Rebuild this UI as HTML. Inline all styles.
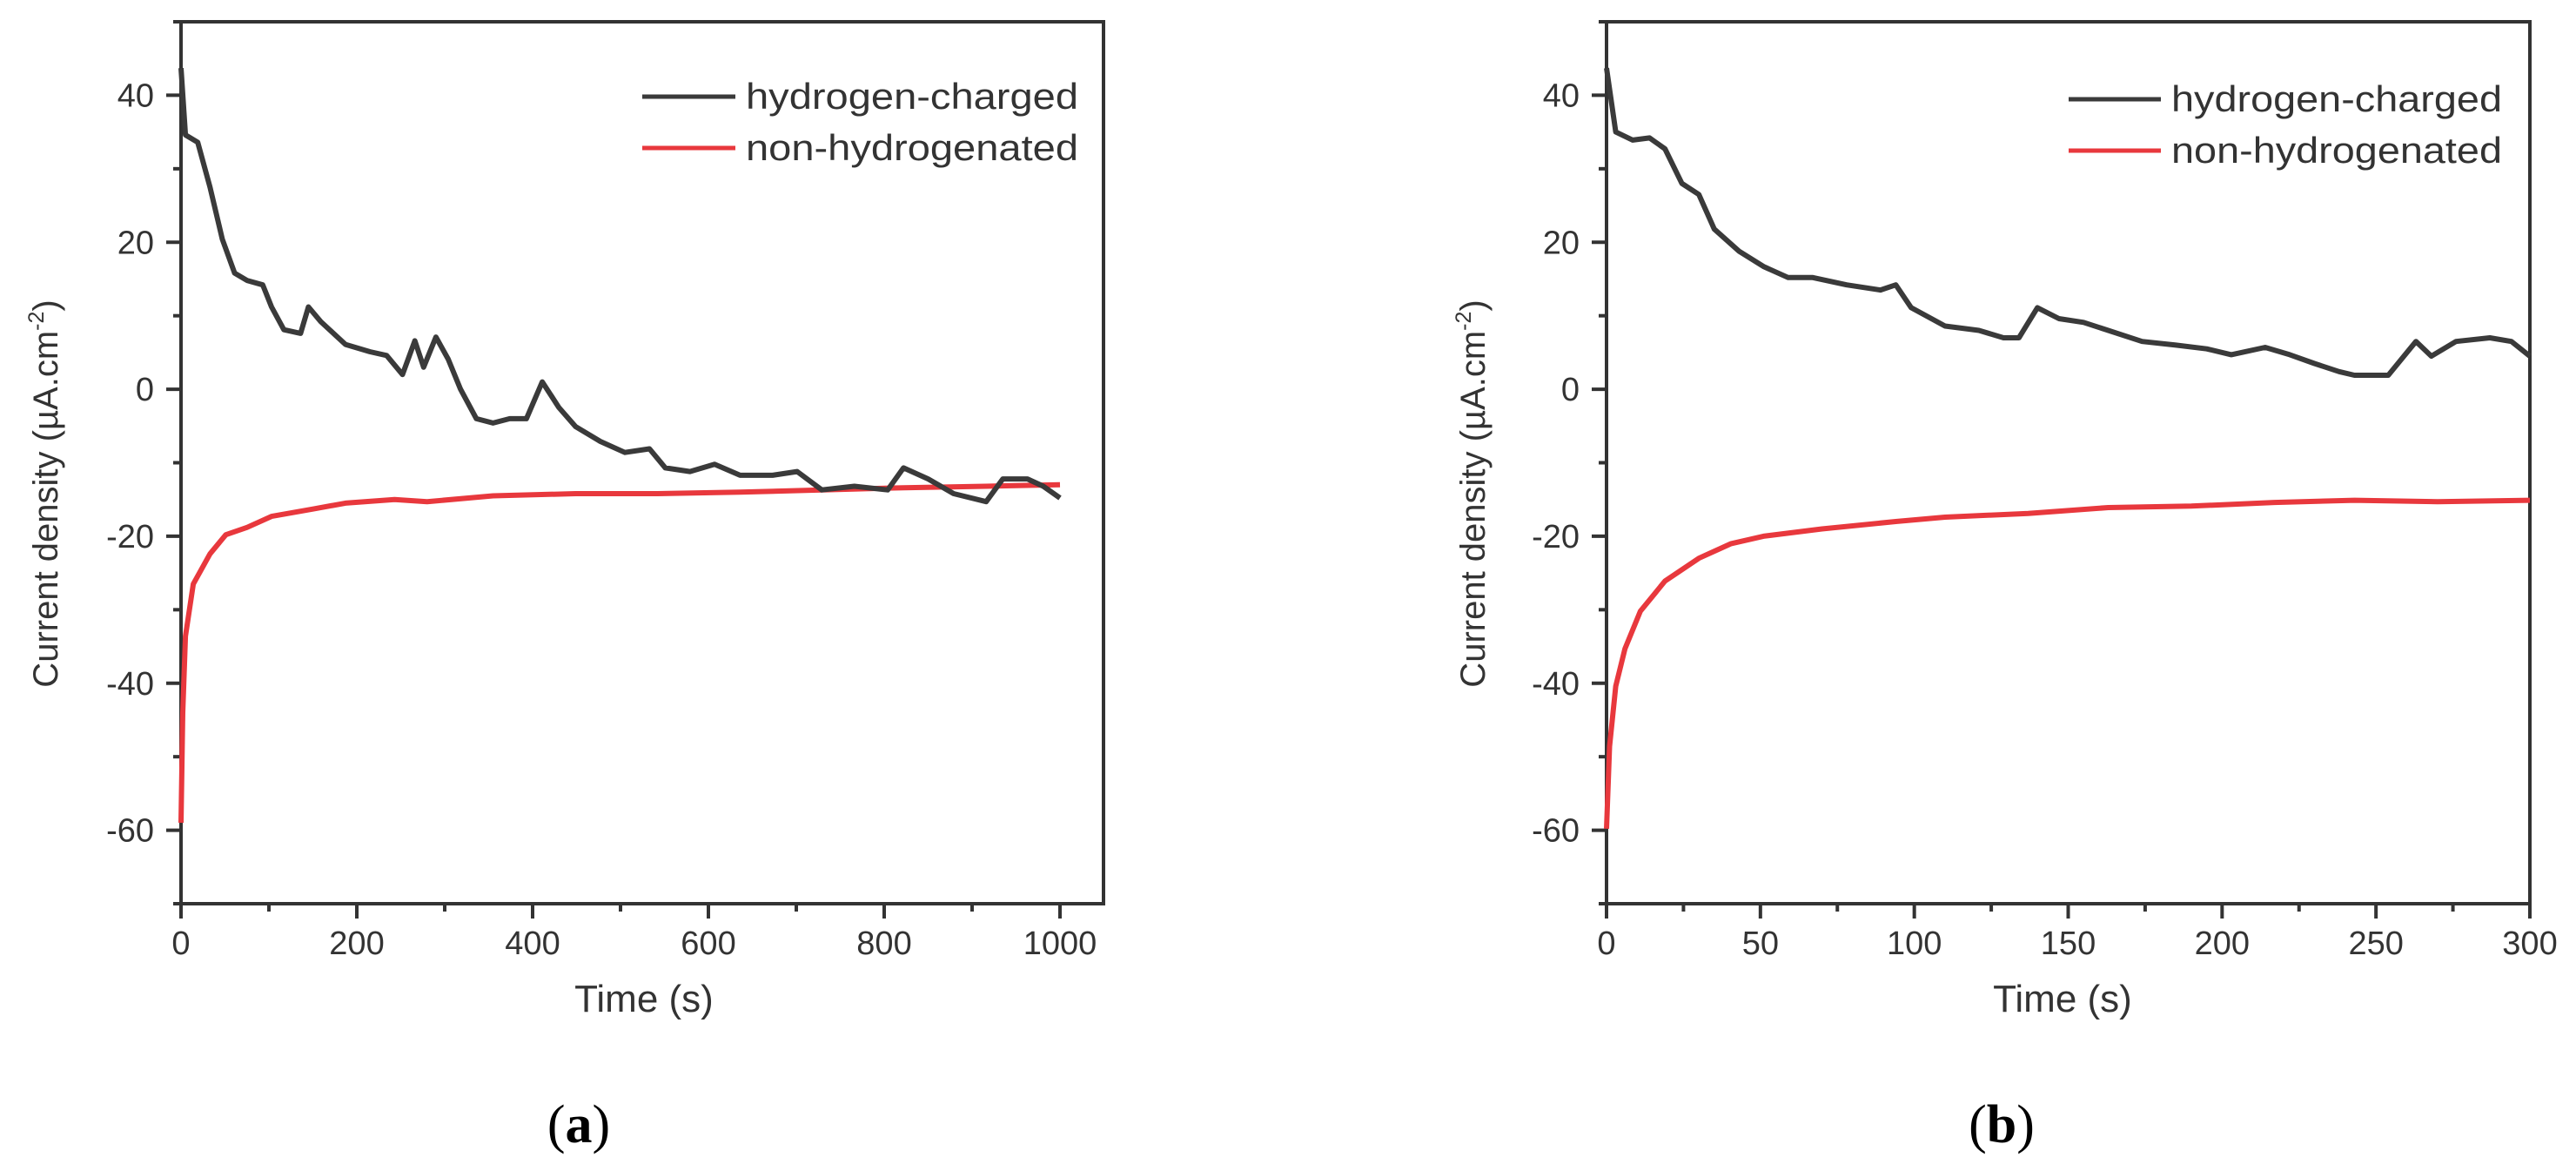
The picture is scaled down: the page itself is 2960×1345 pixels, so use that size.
<!DOCTYPE html>
<html><head><meta charset="utf-8"><style>
html,body{margin:0;padding:0;background:#fff;}
svg{display:block;font-family:"Liberation Sans",sans-serif;}
</style></head><body>
<svg id="fig" width="2960" height="1345" viewBox="0 0 2960 1345" xmlns="http://www.w3.org/2000/svg"></svg>
<script>
// Panel (a) data
const aHydTime=[0,5,19,33,47,61,75,93,103,117,136,145,159,187,215,234,252,266,276,290,304,318,336,355,374,393,411,430,449,477,505,533,551,579,607,636,673,701,729,766,804,822,850,879,916,935,963,981,1000];
const aHydVal=[43.7,34.6,33.6,27.5,20.4,15.8,14.8,14.2,11.2,8.1,7.6,11.2,9.2,6.1,5.1,4.6,2,6.6,3,7.1,4.1,0,-4,-4.6,-4,-4,1,-2.5,-5.1,-7.1,-8.6,-8.1,-10.7,-11.2,-10.2,-11.7,-11.7,-11.2,-13.7,-13.2,-13.7,-10.7,-12.2,-14.2,-15.3,-12.2,-12.2,-13.2,-14.8];
const aNonTime=[0,2,5,14,33,51,75,103,150,187,243,280,355,449,542,636,729,822,916,1000];
const aNonVal=[-59,-44,-33.6,-26.5,-22.4,-19.8,-18.8,-17.3,-16.3,-15.5,-15,-15.3,-14.5,-14.2,-14.2,-14,-13.7,-13.4,-13.2,-13];
const aXTicks=[0,200,400,600,800,1000];
// Panel (b) data
const bHydTime=[0,3,8.5,14,19,24.5,30,35,43,51,59,67,78,89,94,99,110,121,129,134,140,147,155,163,174,185,195,203,214,222,230,238,243,254,263,268,276,287,294,300];
const bHydVal=[43.7,35,33.9,34.2,32.7,28,26.5,21.8,18.8,16.7,15.2,15.2,14.2,13.5,14.2,11.1,8.6,8,7,7,11.1,9.6,9.1,8,6.5,6,5.5,4.7,5.7,4.7,3.5,2.4,1.9,1.9,6.5,4.5,6.5,7,6.5,4.5];
const bNonTime=[0,1,3,6,11,19,30,40.5,51,70,94,110,137,163,190,217,243,270,300];
const bNonVal=[-59.8,-48.6,-40.4,-35.3,-30.2,-26.1,-23,-21,-20,-19,-18,-17.4,-16.9,-16.1,-15.9,-15.4,-15.1,-15.3,-15.1];
const bXTicks=[0,50,100,150,200,250,300];
const yTicks=[-60,-40,-20,0,20,40];

const NS="http://www.w3.org/2000/svg";
const svg=document.getElementById('fig');
function mk(tag,attrs,parent){const e=document.createElementNS(NS,tag);for(const k in attrs)e.setAttribute(k,attrs[k]);(parent||svg).appendChild(e);return e;}

function panel(p){
  const g=mk('g',{});
  
  
  const top=25,bot=1038;
  const xs=t=>p.x0+(t-p.xmin)*(p.x1-p.x0)/(p.xmaxTick-p.xmin);
  const ys=v=>bot-(v+70)*(bot-top)/120;
  const fr=mk('rect',{x:p.x0,y:top,width:p.xr-p.x0,height:bot-top,fill:'none',stroke:'#333',"stroke-width":4},g);
  
  
  const step=p.xTicks[1]-p.xTicks[0];
  for(let t=p.xmin;t<=p.xmaxTick+1e-6;t+=step/2){
    const major=Math.abs((t/step)-Math.round(t/step))<1e-6;
    const x=xs(t);
    const tk=mk('line',{x1:x,y1:bot,x2:x,y2:bot+(major?17:9),stroke:'#333',"stroke-width":4},g);
    
    
  }
  p.xTicks.forEach(t=>{
    const tx=mk('text',{x:xs(t),y:1096,"font-size":38,fill:'#333',"text-anchor":'middle'},g);
    tx.textContent=t;
    
    
  });
  for(let v=-70;v<=50;v+=10){
    const major=v%20===0;
    const y=ys(v);
    const tk=mk('line',{x1:p.x0,y1:y,x2:p.x0-(major?17:9),y2:y,stroke:'#333',"stroke-width":4},g);
    
    
  }
  yTicks.forEach(v=>{
    const tx=mk('text',{x:p.x0-31,y:ys(v)+13,"font-size":38,fill:'#333',"text-anchor":'end'},g);
    tx.textContent=v;
    
    
  });
  const yt=mk('text',{x:0,y:0,"font-size":40,fill:'#333',"text-anchor":'middle',transform:`translate(${p.ytx},567) rotate(-90)`},g);
  yt.innerHTML='Current density (µA.cm<tspan dy="-16" font-size="25">-2</tspan><tspan dy="16">)</tspan>';
  
  
  const xt=mk('text',{x:p.xtx,y:1162,"font-size":44,fill:'#333',"text-anchor":'middle'},g);
  xt.textContent='Time (s)';
  
  
  function series(T,V,color,name){
    let d='';T.forEach((t,i)=>{d+=(i?'L':'M')+xs(t).toFixed(1)+','+ys(V[i]).toFixed(1);});
    const pa=mk('path',{d:d,fill:'none',stroke:color,"stroke-width":6,"stroke-linejoin":'round'},g);
    
    
  }
  series(p.nonT,p.nonV,'#e8383d',p.id+'-non-hydrogenated-line');
  series(p.hydT,p.hydV,'#3a3a3a',p.id+'-hydrogen-charged-line');
  [[p.ly1,'#3a3a3a','hydrogen-charged'],[p.ly2,'#e8383d','non-hydrogenated']].forEach(([y,c,label])=>{
    const l=mk('line',{x1:p.lx1,y1:y,x2:p.lx2,y2:y,stroke:c,"stroke-width":5},g);
    
    
    const t=mk('text',{x:p.lx2+12,y:y+14,"font-size":42,fill:'#333',textLength:p.tl,lengthAdjust:'spacingAndGlyphs'},g);
    t.textContent=label;
    
    
  });
  const cap=mk('text',{x:p.capx,y:1312,"font-size":62,fill:'#000',"text-anchor":'middle',"font-family":'"Liberation Serif",serif'},g);
  cap.innerHTML='(<tspan font-weight="bold">'+p.letter+'</tspan>)';
  
  
}
panel({id:'a',x0:208,x1:1218,xr:1268,xmin:0,xmaxTick:1000,xTicks:aXTicks,hydT:aHydTime,hydV:aHydVal,nonT:aNonTime,nonV:aNonVal,
  ytx:66,xtx:740,lx1:738,lx2:845,ly1:111,ly2:170,tl:382,capx:665,letter:'a'});
panel({id:'b',x0:1846,x1:2907,xr:2907,xmin:0,xmaxTick:300,xTicks:bXTicks,hydT:bHydTime,hydV:bHydVal,nonT:bNonTime,nonV:bNonVal,
  ytx:1706,xtx:2370,lx1:2377,lx2:2483,ly1:114,ly2:173,tl:380,capx:2300,letter:'b'});
</script>
</body></html>
